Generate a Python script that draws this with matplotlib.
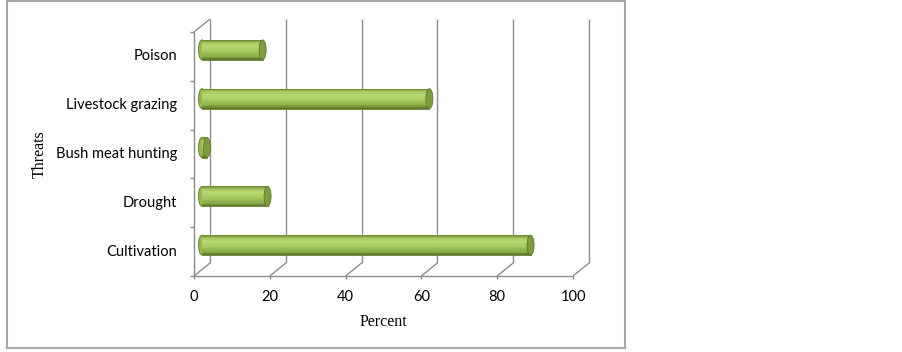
import matplotlib.pyplot as plt
from matplotlib.patches import Ellipse, Rectangle
from matplotlib.colors import LinearSegmentedColormap

# Data
threats = ['Cultivation', 'Drought', 'Bush meat hunting', 'Livestock grazing', 'Poison']
percent = [86.7, 17.3, 1.3, 60.0, 16.0]
xticks = [0, 20, 40, 60, 80, 100]

W, H = 903, 352
fig = plt.figure(figsize=(W / 100, H / 100), dpi=100)
ax = fig.add_axes([194 / W, (H - 276) / H, (573 - 194) / W, 244 / H])
ax.set_xlim(0, 100)
ax.set_ylim(-0.5, len(threats) - 0.5)
ax.axis('off')

# pixel -> data unit helpers (3D depth offsets of the Excel style chart)
px = 100 / 379
py = len(threats) / 244
dx, dy = 16 * px, 13 * py
y0, y1 = -0.5, len(threats) - 0.5
grid = '#8c8c8c'
kw = dict(color=grid, lw=1, clip_on=False, solid_capstyle='butt')

# back wall gridlines, floor diagonals and ticks
for v in xticks:
    ax.plot([v + dx, v + dx], [y0 + dy, y1 + dy], **kw)
    ax.plot([v, v + dx], [y0, y0 + dy], **kw)
    ax.plot([v, v], [y0, y0 - 3 * py], **kw)
    ax.text(v, y0 - 21 * py, str(v), ha='center', va='center',
            fontsize=10.5, family='Lato')

# front floor / left wall edges
ax.plot([0, 100], [y0, y0], **kw)
ax.plot([0, 0], [y0, y1], **kw)
ax.plot([0, dx], [y1, y1 + dy], **kw)
for i in range(len(threats) + 1):
    ax.plot([-4 * px, 0], [y0 + i, y0 + i], **kw)

# cylinders
cyl = LinearSegmentedColormap.from_list('cyl', [
    (0.0, '#5c7728'), (0.15, '#88ac47'), (0.45, '#a8cc60'),
    (0.7, '#b6d872'), (0.88, '#a4c55c'), (1.0, '#718e36')])
h = 0.41
n = 24
x0 = 8 * px
for i, v in enumerate(percent):
    yc = i + 6.5 * py
    ax.add_patch(Ellipse((x0, yc), 7 * px, h, facecolor='#94b84f',
                         edgecolor='#5f7a2a', lw=0.6, zorder=2, clip_on=False))
    for k in range(n):
        ax.barh(yc - h / 2 + (k + 0.5) * h / n, v, height=h / n, left=x0,
                color=cyl(k / (n - 1)), lw=0, zorder=3, clip_on=False)
    ax.plot([x0, x0 + v], [yc - h / 2, yc - h / 2], color='#5f7a2a', lw=0.6, zorder=3)
    ax.add_patch(Ellipse((x0 + v, yc), 7 * px, h, facecolor='#7e9c3f',
                         edgecolor='#5f7a2a', lw=0.6, zorder=4, clip_on=False))

# labels
for i, name in enumerate(threats):
    ax.text(-17 * px, i, name, ha='right', va='center', fontsize=10.5, family='Lato')
ax.text((383 - 194) * px, y0 - 46 * py, 'Percent', ha='center', va='center',
        fontsize=11.5, family='Liberation Serif')
ax.text((40 - 194) * px, (len(threats) - 1) / 2, 'Threats', ha='center', va='center',
        rotation=90, fontsize=11.5, family='Liberation Serif')

# chart frame
fig.add_artist(Rectangle((7 / W, (H - 348) / H), (625 - 7) / W, (348 - 1) / H,
                         transform=fig.transFigure, fill=False,
                         edgecolor='#a6a6a6', lw=1.5))

fig.savefig('out.png', dpi=100)
